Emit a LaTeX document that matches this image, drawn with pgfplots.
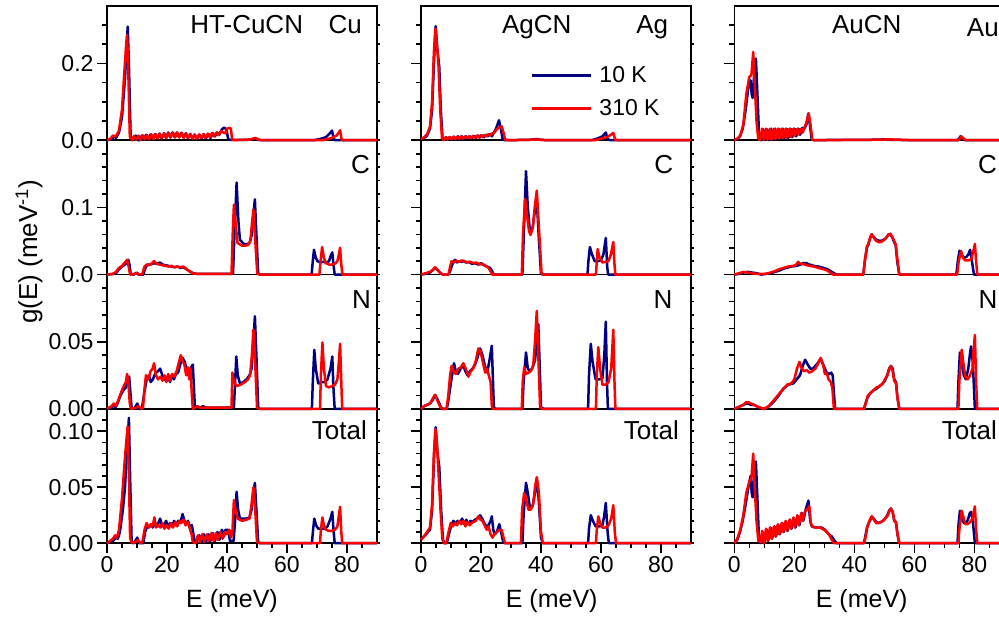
\documentclass[border=0pt]{standalone}
\usepackage{pgfplots}
\pgfplotsset{compat=1.18}
\usepackage{fontspec}
\setmainfont{Liberation Sans}
\definecolor{dblue}{RGB}{0,0,128}
\newcommand{\lblfont}{\fontsize{26}{26}\selectfont}
\pgfplotsset{
  panel/.style={
    scale only axis, width=270pt, height=134.3pt,
    xmin=0, xmax=90, ymin=0, clip=false, anchor=south west,
    axis line style={line width=1.6pt},
    every tick/.style={line width=1.6pt, black},
    tick align=outside, major tick length=10pt, minor tick length=5pt,
    xtick pos=bottom, ytick pos=left, xtick=\empty,
    /pgf/number format/assume math mode=true,
    tick label style={font=\fontsize{23}{23}\selectfont},
  },
  rticks/.style={
    scale only axis, width=270pt, height=134.3pt,
    xmin=0, xmax=90, ymin=0, anchor=south west,
    axis line style={draw=none}, xtick=\empty, ytick pos=right,
    every tick/.style={line width=1.6pt, black},
    tick align=outside, major tick length=3pt, minor tick length=3pt,
    yticklabels={},
  },
  bot/.style={xtick={0,20,40,60,80}, xticklabels={0,20,40,60,80},
    minor xtick={5,10,15,25,30,35,45,50,55,65,70,75,85}},
  rA/.style={ymax=0.35, ytick={0,0.2}, yticklabels={0.0,0.2}, minor ytick={0.05,0.1,0.15,0.25,0.3}},
  rB/.style={ymax=0.2, ytick={0,0.1}, yticklabels={0.0,0.1}, minor ytick={0.02,0.04,0.06,0.08,0.12,0.14,0.16,0.18}},
  rC/.style={ymax=0.1, ytick={0,0.05}, yticklabels={0.00,0.05}, minor ytick={0.01,0.02,0.03,0.04,0.06,0.07,0.08,0.09}},
  rD/.style={ymax=0.12, ytick={0,0.05,0.1}, yticklabels={0.00,0.05,0.10}, minor ytick={0.01,0.02,0.03,0.04,0.06,0.07,0.08,0.09,0.11}},
  nolab/.style={yticklabels={}},
  b/.style={dblue, line width=2.5pt, line join=round},
  r/.style={red, line width=2.5pt, line join=round},
}
\begin{document}
\begin{tikzpicture}
% ================= ROW 4 (Total) =================
\begin{axis}[panel, rD, bot, at={(107pt,77.8pt)}]
\addplot[b] coordinates {(0,0) (1,0.001) (2,0.002) (3,0.005) (3.6,0.004) (4.3,0.01) (5.3,0.03) (6,0.05) (6.6,0.08) (7.3,0.112) (7.7,0.06) (8.2,0.002) (9,0) (10.1,0.005) (10.6,0) (12.1,0) (12.7,0.01) (13.4,0.015) (14,0.014) (14.7,0.017) (15.3,0.014) (16,0.018) (16.7,0.015) (17.7,0.022) (18.4,0.015) (19,0.016) (19.7,0.02) (20.4,0.014) (21,0.018) (21.7,0.015) (22.4,0.02) (23,0.016) (23.7,0.02) (24.4,0.018) (25.2,0.026) (25.8,0.02) (26.4,0.017) (27,0.02) (27.6,0.015) (28.3,0.016) (29,0.005) (29.3,0.001) (30,0.002) (30.8,0.007) (31.5,0.001) (32.3,0.008) (33,0.001) (33.8,0.008) (34.5,0.002) (35.3,0.009) (36,0.002) (36.8,0.01) (37.5,0.003) (38.3,0.012) (39,0.006) (39.5,0.012) (40.4,0.012) (41,0.002) (42.2,0.002) (42.7,0.02) (43.2,0.046) (43.7,0.03) (44.3,0.022) (45.5,0.022) (46.5,0.022) (47.5,0.023) (48.2,0.03) (48.8,0.045) (49.3,0.054) (49.8,0.03) (50.4,0.001) (51,0) (68.3,0) (68.7,0.012) (69.1,0.022) (69.7,0.016) (70.4,0.013) (71.5,0.013) (72.5,0.013) (73.5,0.015) (74.5,0.022) (75.1,0.028) (75.5,0.012) (75.9,0) (90,0)};
\addplot[r] coordinates {(0,0) (1,0.002) (2,0.004) (2.7,0.007) (3.3,0.005) (4,0.012) (5,0.04) (5.8,0.07) (6.4,0.09) (6.9,0.1045) (7.3,0.06) (7.7,0.005) (8.3,0) (9.5,0.001) (10.3,0.003) (11.2,0) (11.8,0.001) (12.5,0.012) (13.2,0.018) (13.9,0.014) (14.6,0.017) (15.2,0.015) (15.8,0.023) (16.4,0.014) (17.1,0.016) (17.8,0.014) (18.5,0.018) (19.2,0.013) (19.9,0.016) (20.6,0.013) (21.3,0.018) (22,0.014) (22.7,0.019) (23.4,0.015) (24.1,0.02) (24.8,0.018) (25.5,0.021) (26.2,0.016) (26.9,0.019) (27.6,0.013) (28.2,0.008) (28.6,0.001) (29.5,0) (30.3,0.007) (31,0.001) (31.8,0.008) (32.5,0.001) (33.3,0.008) (34,0.002) (34.8,0.009) (35.5,0.002) (36.3,0.009) (37,0.003) (37.8,0.01) (38.5,0.004) (39.3,0.01) (40,0.008) (40.8,0.012) (41.3,0.005) (41.8,0.01) (42.3,0.0385) (42.8,0.03) (43.5,0.022) (45,0.02) (46.5,0.021) (47.5,0.022) (48.2,0.035) (48.8,0.05) (49.3,0.035) (50,0.001) (51,0) (71,0) (71.3,0.012) (71.8,0.023) (72.3,0.016) (73,0.012) (74,0.011) (75,0.011) (76,0.012) (76.8,0.015) (77.3,0.025) (77.7,0.0326) (78.1,0.01) (78.4,0) (90,0)};
\end{axis}
\begin{axis}[rD, rticks, at={(107pt,77.8pt)}]\end{axis}

\begin{axis}[panel, rD, nolab, bot, at={(421pt,77.8pt)}]
\addplot[b] coordinates {(0,0.004) (1,0.006) (2,0.009) (3,0.012) (3.7,0.03) (4.3,0.075) (4.9,0.1036) (5.5,0.08) (6.1,0.068) (6.7,0.03) (7.3,0.004) (7.7,0) (8.6,0) (9.3,0.008) (10,0.015) (10.8,0.02) (11.5,0.017) (12.2,0.02) (13,0.018) (13.7,0.022) (14.4,0.017) (15.1,0.021) (15.8,0.017) (16.5,0.02) (17.2,0.019) (18,0.021) (18.8,0.022) (19.7,0.025) (20.4,0.022) (21.1,0.018) (21.8,0.015) (22.5,0.016) (23.2,0.02) (23.6,0.024) (24.1,0.012) (24.6,0.008) (25.3,0.01) (26.1,0.017) (26.7,0.01) (27.4,0.001) (28,0) (33.8,0) (34.2,0.025) (35,0.054) (35.6,0.045) (36.3,0.032) (37.2,0.033) (38,0.045) (38.6,0.0577) (39.2,0.04) (40,0.005) (40.6,0) (55.7,0) (56,0.013) (56.6,0.025) (57.3,0.02) (58.2,0.015) (59.5,0.015) (60.5,0.016) (61.1,0.025) (61.6,0.036) (62.2,0.01) (62.6,0) (90,0)};
\addplot[r] coordinates {(0,0.003) (1,0.006) (2,0.01) (3,0.014) (3.7,0.035) (4.3,0.08) (4.8,0.102) (5.3,0.09) (5.9,0.06) (6.5,0.03) (7.1,0.004) (7.6,0) (8.4,0) (9.2,0.01) (9.9,0.018) (10.6,0.015) (11.3,0.018) (12,0.016) (12.7,0.02) (13.4,0.017) (14.1,0.02) (14.8,0.015) (15.5,0.019) (16.2,0.016) (16.9,0.018) (17.6,0.019) (18.3,0.02) (19.1,0.024) (19.8,0.021) (20.5,0.02) (21.2,0.016) (21.9,0.012) (22.5,0.015) (23.2,0.008) (23.8,0.005) (24.5,0.008) (25.3,0.01) (26.2,0.012) (26.9,0.012) (27.5,0.005) (28,0) (33.3,0) (33.7,0.03) (34.4,0.045) (35,0.04) (35.8,0.03) (36.6,0.03) (37.4,0.035) (38,0.05) (38.6,0.059) (39.3,0.045) (40,0.01) (40.6,0) (58.3,0) (58.6,0.012) (59.1,0.024) (59.7,0.018) (60.5,0.014) (61.5,0.014) (62.5,0.016) (63.4,0.022) (64.1,0.034) (64.6,0.01) (65,0) (90,0)};
\end{axis}
\begin{axis}[rD, rticks, at={(421pt,77.8pt)}]\end{axis}

\begin{axis}[panel, rD, nolab, bot, at={(734.3pt,77.8pt)}]
\addplot[b] coordinates {(0,0) (1,0.003) (1.9,0.01) (2.8,0.02) (3.8,0.035) (4.7,0.05) (5.4,0.06) (5.8,0.045) (6.1,0.041) (6.6,0.06) (7.2,0.073) (7.7,0.04) (8.2,0.005) (8.6,0) (9.5,0.01) (10,0) (10.8,0.012) (11.3,0.002) (12.1,0.014) (12.6,0.004) (13.4,0.015) (13.9,0.006) (14.7,0.016) (15.2,0.008) (16,0.018) (16.5,0.01) (17.3,0.019) (17.8,0.011) (18.6,0.021) (19.1,0.013) (19.9,0.022) (20.4,0.014) (21.2,0.024) (21.7,0.016) (22.5,0.027) (23,0.02) (23.8,0.03) (24.7,0.038) (25.3,0.02) (25.8,0.015) (27,0.014) (28,0.014) (29.1,0.014) (30.2,0.012) (31.5,0.008) (32.5,0.006) (33.5,0.002) (34.1,0) (43.2,0) (43.6,0.005) (44.3,0.015) (45.2,0.02) (45.8,0.0237) (46.5,0.022) (47.3,0.019) (48,0.018) (49,0.019) (50,0.021) (51,0.025) (51.6,0.029) (52.2,0.031) (52.8,0.028) (53.3,0.02) (53.9,0.019) (54.4,0.008) (55,0) (74.4,0) (74.7,0.015) (75.2,0.029) (75.8,0.024) (76.5,0.018) (77.3,0.018) (78,0.022) (78.5,0.027) (78.9,0.028) (79.5,0.02) (80.2,0) (90,0)};
\addplot[r] coordinates {(0,0) (1,0.004) (2,0.012) (3,0.025) (4,0.045) (5,0.055) (5.7,0.058) (6.3,0.08) (6.8,0.05) (7.4,0.02) (8,0.002) (8.8,0.001) (9.3,0.011) (9.8,0) (10.6,0.013) (11.1,0.002) (11.9,0.014) (12.4,0.004) (13.2,0.015) (13.7,0.006) (14.5,0.017) (15,0.008) (15.8,0.018) (16.3,0.01) (17.1,0.02) (17.6,0.011) (18.4,0.021) (18.9,0.013) (19.7,0.023) (20.2,0.014) (21,0.025) (21.5,0.016) (22.3,0.027) (22.8,0.02) (23.5,0.028) (24.2,0.03) (25,0.033) (25.5,0.018) (26,0.015) (27,0.014) (28.5,0.014) (30,0.012) (31.5,0.008) (32.5,0.003) (33.2,0) (43.3,0) (43.8,0.006) (44.4,0.015) (45.2,0.021) (45.8,0.024) (46.5,0.021) (47.3,0.018) (48,0.018) (49,0.019) (50,0.021) (51,0.024) (51.6,0.028) (52.2,0.031) (52.8,0.028) (53.3,0.021) (53.9,0.018) (54.4,0.008) (55,0) (74.7,0) (75,0.012) (75.8,0.029) (76.3,0.024) (77,0.017) (77.8,0.017) (78.6,0.019) (79.4,0.022) (79.8,0.028) (80.2,0.033) (80.6,0.012) (81,0) (90,0)};
\end{axis}
\begin{axis}[rD, rticks, at={(734.3pt,77.8pt)}]\end{axis}

% ================= ROW 3 (N) =================
\begin{axis}[panel, rC, at={(107pt,212.1pt)}]
\addplot[b] coordinates {(0,0) (1.5,0.001) (2.1,0.003) (2.8,0.001) (3.5,0.004) (4.5,0.01) (5.5,0.014) (6.3,0.016) (6.8,0.02) (7.4,0.024) (7.8,0.012) (8.2,0.001) (9,0) (10.1,0.004) (10.7,0) (11.6,0) (12.3,0.01) (13.2,0.022) (14,0.025) (14.6,0.02) (15.3,0.022) (16.2,0.027) (17,0.028) (17.7,0.03) (18.3,0.026) (19,0.022) (19.7,0.021) (20.4,0.024) (21,0.02) (21.6,0.025) (22.3,0.022) (23,0.026) (23.7,0.027) (24.4,0.033) (25.2,0.038) (25.9,0.035) (26.5,0.03) (27.1,0.025) (27.8,0.03) (28.6,0.033) (29,0.015) (29.3,0.001) (30,0.002) (31,0.001) (32,0.002) (33,0.001) (35,0.001) (38,0.001) (42.3,0.001) (42.6,0.015) (43.1,0.039) (43.6,0.025) (44.3,0.019) (45.5,0.02) (46.5,0.022) (47.5,0.025) (48.2,0.03) (48.8,0.05) (49.3,0.069) (49.8,0.04) (50.4,0.001) (51,0) (68.3,0) (68.6,0.02) (69.1,0.044) (69.6,0.03) (70.4,0.019) (71.5,0.02) (72.5,0.02) (73.5,0.022) (74.5,0.03) (75.1,0.039) (75.5,0.015) (75.9,0) (90,0)};
\addplot[r] coordinates {(0,0) (1.5,0.002) (2.3,0.004) (3,0.002) (4,0.008) (5,0.014) (5.8,0.018) (6.3,0.02) (6.7,0.026) (7.1,0.02) (7.6,0.004) (8,0) (9.8,0.001) (10.5,0.002) (11.5,0) (12,0.001) (12.5,0.015) (13,0.025) (13.8,0.022) (14.5,0.028) (15.2,0.03) (15.7,0.034) (16.3,0.025) (17,0.022) (17.8,0.024) (18.5,0.021) (19.2,0.025) (19.8,0.02) (20.4,0.026) (21,0.021) (21.7,0.026) (22.4,0.024) (23.2,0.028) (24,0.035) (24.6,0.04) (25.2,0.036) (25.8,0.033) (26.4,0.025) (27,0.031) (27.4,0.022) (27.8,0.03) (28.3,0.01) (28.6,0) (30,0.002) (31,0.001) (33,0.001) (36,0.001) (41.5,0.001) (41.8,0.027) (42.3,0.02) (43.3,0.017) (44.5,0.018) (46,0.02) (47,0.022) (47.7,0.025) (48.3,0.04) (48.8,0.059) (49.3,0.04) (50,0.001) (51,0) (71,0) (71.3,0.025) (71.8,0.0495) (72.3,0.03) (73,0.017) (74,0.016) (75,0.017) (76,0.018) (76.8,0.022) (77.3,0.035) (77.7,0.0485) (78.1,0.02) (78.4,0) (90,0)};
\end{axis}
\begin{axis}[rC, rticks, at={(107pt,212.1pt)}]\end{axis}

\begin{axis}[panel, rC, nolab, at={(421pt,212.1pt)}]
\addplot[b] coordinates {(0,0) (1,0.002) (2,0.003) (3,0.004) (4,0.007) (4.7,0.0104) (5.5,0.007) (6.5,0.002) (7,0) (8.6,0) (9.1,0.006) (10,0.02) (11,0.034) (11.6,0.028) (12.3,0.026) (13.2,0.03) (14.1,0.032) (14.8,0.028) (15.5,0.025) (16.3,0.028) (17.2,0.03) (18,0.033) (18.8,0.038) (19.7,0.045) (20.5,0.04) (21.3,0.032) (22.1,0.027) (22.8,0.036) (23.6,0.047) (24,0.02) (24.3,0.001) (25,0) (33.8,0) (34.2,0.02) (35,0.042) (35.6,0.03) (36.3,0.028) (37,0.03) (38,0.036) (38.6,0.05) (39.1,0.063) (39.6,0.03) (40,0.001) (41,0) (55.7,0) (56,0.025) (56.6,0.0485) (57.2,0.035) (58.2,0.022) (59.5,0.022) (60.5,0.023) (61.1,0.04) (61.6,0.065) (62,0.02) (62.3,0) (90,0)};
\addplot[r] coordinates {(0,0) (1,0.002) (2,0.003) (3,0.004) (4,0.008) (4.7,0.0105) (5.5,0.006) (6.5,0.001) (7.5,0) (8.5,0) (9.1,0.01) (9.7,0.025) (10.2,0.032) (10.9,0.028) (11.6,0.026) (12.5,0.03) (13.3,0.031) (14.1,0.034) (14.9,0.03) (15.8,0.024) (16.6,0.028) (17.4,0.03) (18.3,0.036) (19.1,0.045) (19.8,0.043) (20.6,0.035) (21.4,0.027) (22,0.03) (22.6,0.025) (23.2,0.02) (23.6,0.002) (24,0) (33.6,0) (33.9,0.02) (34.4,0.031) (35,0.026) (35.8,0.027) (36.6,0.028) (37.4,0.032) (38,0.05) (38.6,0.073) (39.1,0.04) (39.7,0.001) (40.5,0) (58.3,0) (58.6,0.025) (59.1,0.046) (59.7,0.03) (60.5,0.018) (61.5,0.018) (62.5,0.02) (63.4,0.03) (64.1,0.059) (64.5,0.02) (64.8,0) (90,0)};
\end{axis}
\begin{axis}[rC, rticks, at={(421pt,212.1pt)}]\end{axis}

\begin{axis}[panel, rC, nolab, at={(734.3pt,212.1pt)}]
\addplot[b] coordinates {(0,0) (1,0.001) (2,0.002) (3,0.003) (4,0.004) (4.7,0.004) (5.5,0.003) (6.5,0.003) (7.4,0.002) (8.5,0.001) (10.2,0) (11.5,0.002) (13,0.005) (14.5,0.009) (16.3,0.015) (18,0.018) (19.7,0.019) (20.8,0.022) (21.9,0.025) (22.8,0.032) (23.6,0.0366) (24.5,0.033) (25.3,0.03) (26.2,0.03) (27,0.032) (27.8,0.034) (28.6,0.037) (29.4,0.034) (30.2,0.03) (30.8,0.027) (31.6,0.026) (32.3,0.027) (32.8,0.025) (33.2,0.012) (33.6,0) (43.2,0) (43.6,0.003) (44.5,0.009) (45.5,0.012) (46.5,0.014) (47.4,0.015) (48.5,0.017) (49.5,0.019) (50.2,0.021) (51,0.025) (51.6,0.03) (52.2,0.032) (52.8,0.03) (53.3,0.022) (53.9,0.02) (54.4,0.008) (55,0) (74.4,0) (74.7,0.02) (75.2,0.042) (75.8,0.035) (76.5,0.025) (77.2,0.022) (78,0.03) (78.5,0.04) (78.9,0.0465) (79.5,0.035) (80.2,0) (90,0)};
\addplot[r] coordinates {(0,0) (1,0.001) (2,0.002) (3,0.003) (4,0.005) (4.7,0.005) (5.5,0.004) (6.5,0.003) (7.5,0.002) (8.5,0.001) (9.8,0) (11.5,0.002) (13,0.006) (14.5,0.01) (16,0.014) (17.6,0.018) (19,0.019) (20,0.022) (20.9,0.03) (21.7,0.035) (22.5,0.03) (23.3,0.028) (24.1,0.029) (25,0.027) (26,0.028) (27,0.03) (28,0.034) (28.8,0.038) (29.5,0.034) (30.2,0.026) (30.8,0.027) (31.4,0.022) (32.2,0.02) (32.7,0.015) (33.2,0) (43.3,0) (43.8,0.004) (44.5,0.01) (45.5,0.012) (46.5,0.014) (47.4,0.016) (48.5,0.017) (49.5,0.019) (50.2,0.022) (51,0.025) (51.6,0.029) (52.2,0.032) (52.8,0.028) (53.3,0.021) (53.9,0.019) (54.4,0.008) (55,0) (74.7,0) (75,0.02) (75.8,0.044) (76.3,0.035) (77,0.024) (77.8,0.022) (78.6,0.025) (79.4,0.03) (79.8,0.045) (80.2,0.055) (80.6,0.02) (81,0) (90,0)};
\end{axis}
\begin{axis}[rC, rticks, at={(734.3pt,212.1pt)}]\end{axis}

% ================= ROW 2 (C) =================
\begin{axis}[panel, rB, at={(107pt,346.4pt)}]
\addplot[b] coordinates {(0,0) (2,0.001) (3,0.002) (4,0.008) (5,0.012) (6,0.015) (6.6,0.017) (7.1,0.022) (7.5,0.015) (7.9,0.001) (9,0) (9.9,0.003) (10.5,0) (12.1,0) (12.8,0.01) (13.5,0.015) (14.5,0.015) (15.5,0.017) (16.5,0.016) (17.7,0.018) (18.5,0.015) (19.5,0.014) (20.5,0.013) (21.5,0.012) (22.5,0.011) (23.5,0.012) (24.5,0.01) (25.4,0.011) (26.5,0.008) (27.5,0.005) (28.8,0.002) (30,0.001) (35,0.001) (40,0.001) (42,0.001) (42.4,0.05) (43.2,0.137) (43.8,0.08) (44.3,0.052) (45.5,0.046) (46.5,0.045) (47.5,0.047) (48.3,0.06) (48.8,0.09) (49.3,0.112) (49.8,0.06) (50.4,0.002) (51,0) (68.2,0) (68.6,0.02) (69,0.037) (69.6,0.025) (70.2,0.02) (71,0.018) (72,0.019) (73,0.018) (74,0.02) (74.6,0.028) (75.1,0.033) (75.5,0.015) (75.9,0) (90,0)};
\addplot[r] coordinates {(0,0) (2,0.001) (3,0.004) (4,0.01) (5,0.013) (6,0.018) (6.7,0.022) (7.3,0.01) (7.7,0) (9,0.001) (10,0.002) (11,0) (11.8,0.001) (12.5,0.012) (13.2,0.015) (14,0.014) (15,0.017) (15.7,0.02) (16.5,0.016) (17.5,0.015) (18.5,0.014) (19.5,0.013) (20.5,0.012) (21.5,0.013) (22.5,0.011) (23.5,0.012) (24.5,0.011) (25.5,0.012) (26.5,0.008) (27.5,0.005) (28.5,0.002) (30,0.001) (41.5,0.001) (41.9,0.06) (42.3,0.104) (42.8,0.08) (43.5,0.047) (45,0.043) (46,0.043) (47,0.044) (47.8,0.05) (48.3,0.075) (48.8,0.097) (49.3,0.06) (50.1,0.001) (51,0) (70.8,0) (71.3,0.025) (71.7,0.041) (72.3,0.025) (73,0.017) (74,0.015) (75,0.015) (76,0.016) (76.8,0.02) (77.3,0.03) (77.7,0.04) (78.1,0.015) (78.5,0) (90,0)};
\end{axis}
\begin{axis}[rB, rticks, at={(107pt,346.4pt)}]\end{axis}

\begin{axis}[panel, rB, nolab, at={(421pt,346.4pt)}]
\addplot[b] coordinates {(0,0) (1.5,0.001) (3,0.003) (4,0.007) (4.7,0.01) (5.5,0.007) (6.5,0.002) (7.4,0) (9.1,0) (9.7,0.005) (10.5,0.016) (11.3,0.022) (12,0.018) (12.8,0.02) (13.5,0.019) (14.3,0.02) (15,0.018) (16,0.019) (17,0.016) (18,0.017) (19,0.015) (20,0.017) (21,0.014) (22,0.012) (23,0.01) (23.6,0.006) (24.1,0.001) (25,0) (33.8,0) (34.2,0.05) (35,0.154) (35.6,0.1) (36.3,0.065) (37.2,0.07) (37.8,0.09) (38.6,0.111) (39.2,0.06) (40,0.001) (41,0) (55.5,0) (55.8,0.02) (56.3,0.041) (57,0.03) (57.9,0.02) (59,0.02) (60,0.021) (60.8,0.03) (61.6,0.0545) (62.1,0.01) (62.4,0) (90,0)};
\addplot[r] coordinates {(0,0) (1.5,0.002) (3,0.004) (4,0.007) (4.7,0.011) (5.5,0.007) (6.5,0.002) (7.5,0) (9.2,0) (9.7,0.012) (10.2,0.02) (11,0.018) (11.8,0.021) (12.6,0.019) (13.5,0.021) (14.5,0.02) (15.5,0.018) (16.5,0.019) (17.5,0.017) (18.5,0.018) (19.5,0.015) (20.5,0.016) (21.5,0.013) (22.5,0.01) (23.3,0.004) (23.8,0) (33.6,0) (34,0.06) (34.7,0.113) (35.3,0.09) (36,0.065) (36.5,0.059) (37.3,0.07) (37.9,0.1) (38.6,0.125) (39.3,0.07) (40.2,0.001) (41,0) (58.3,0) (58.6,0.02) (58.9,0.038) (59.5,0.025) (60.5,0.018) (61.5,0.019) (62.5,0.02) (63.3,0.03) (64.1,0.0485) (64.5,0.015) (64.8,0) (90,0)};
\end{axis}
\begin{axis}[rB, rticks, at={(421pt,346.4pt)}]\end{axis}

\begin{axis}[panel, rB, nolab, at={(734.3pt,346.4pt)}]
\addplot[b] coordinates {(0,0) (1.5,0.001) (3,0.003) (4.5,0.004) (6,0.003) (7.5,0.002) (9,0) (10.5,0.001) (12,0.002) (13.5,0.004) (15,0.006) (16.5,0.009) (17.4,0.01) (19,0.012) (20.8,0.013) (22,0.015) (23,0.0173) (24,0.017) (25,0.015) (26.5,0.013) (28,0.012) (29.7,0.01) (31,0.008) (32.5,0.004) (34.1,0) (43,0) (43.5,0.02) (44.2,0.04) (44.7,0.045) (45.3,0.055) (45.8,0.06) (46.5,0.056) (47.3,0.052) (48.5,0.05) (49.5,0.051) (50.5,0.054) (51.4,0.06) (52,0.06) (52.7,0.055) (53.3,0.048) (53.8,0.044) (54.3,0.02) (55,0) (74,0) (74.5,0.02) (75.1,0.0357) (75.7,0.03) (76.5,0.025) (77.3,0.026) (78,0.03) (78.6,0.037) (79.2,0.02) (79.9,0) (90,0)};
\addplot[r] coordinates {(0,0) (1.5,0.002) (3,0.004) (4.5,0.003) (6,0.002) (7.5,0.001) (9,0.001) (10.5,0.001) (12,0.003) (13.5,0.005) (15,0.008) (16.5,0.01) (18,0.012) (19.5,0.013) (20.5,0.014) (21.3,0.019) (22,0.016) (23.5,0.015) (25,0.013) (26.5,0.012) (28,0.01) (29.7,0.008) (31,0.006) (32,0.003) (33,0) (43,0) (43.5,0.02) (44.2,0.042) (44.7,0.046) (45.3,0.055) (45.8,0.06) (46.5,0.055) (47.3,0.05) (48.5,0.048) (49.5,0.05) (50.5,0.054) (51.4,0.059) (52,0.061) (52.7,0.056) (53.3,0.05) (53.8,0.045) (54.3,0.025) (55,0) (74.3,0) (74.8,0.02) (75.6,0.035) (76.2,0.025) (77,0.021) (78,0.021) (79,0.023) (79.7,0.035) (80.2,0.0456) (80.6,0.02) (81,0) (90,0)};
\end{axis}
\begin{axis}[rB, rticks, at={(734.3pt,346.4pt)}]\end{axis}

% ================= ROW 1 (metal) =================
\begin{axis}[panel, rA, at={(107pt,480.8pt)}]
\addplot[b] coordinates {(0,0) (1.5,0.002) (2.3,0.01) (3,0.006) (4,0.02) (5,0.06) (6,0.16) (6.6,0.25) (6.9,0.296) (7.3,0.2) (7.9,0.005) (8.5,0) (9.6,0.012) (10.2,0) (11,0) (11.6,0.012) (12.3,0.002) (13,0.014) (13.7,0.002) (14.5,0.015) (15.2,0.003) (16,0.016) (16.8,0.004) (17.5,0.017) (18.2,0.005) (19,0.018) (19.7,0.006) (20.4,0.02) (21.1,0.007) (21.8,0.02) (22.6,0.008) (23.3,0.02) (24,0.008) (24.8,0.019) (25.5,0.007) (26.3,0.018) (27,0.005) (27.8,0.016) (28.5,0.004) (29.3,0.014) (30,0.004) (30.8,0.014) (31.5,0.004) (32.3,0.015) (33,0.005) (33.8,0.016) (34.5,0.006) (35.3,0.018) (36,0.01) (36.8,0.02) (37.5,0.015) (38.3,0.028) (39,0.033) (39.8,0.028) (40.4,0.003) (41,0.001) (47,0.001) (48.5,0.003) (49.3,0.005) (50,0.001) (52,0) (69,0) (71,0.003) (73,0.008) (74.5,0.02) (75,0.025) (75.6,0.003) (76,0) (90,0)};
\addplot[r] coordinates {(0,0) (1,0.003) (2,0.012) (3,0.01) (4,0.025) (5,0.08) (5.8,0.18) (6.4,0.25) (6.7,0.274) (7.1,0.18) (7.6,0.01) (8.3,0) (9.0,0.011) (9.7,0.001) (10.5,0.012) (11.2,0.001) (11.9,0.013) (12.6,0.002) (13.3,0.014) (14,0.002) (14.8,0.015) (15.5,0.003) (16.2,0.016) (16.9,0.004) (17.6,0.017) (18.3,0.005) (19.1,0.018) (19.8,0.006) (20.5,0.019) (21.2,0.007) (22,0.02) (22.7,0.007) (23.4,0.02) (24.1,0.007) (24.9,0.019) (25.6,0.006) (26.3,0.018) (27,0.005) (27.8,0.016) (28.5,0.004) (29.2,0.015) (29.9,0.004) (30.7,0.015) (31.4,0.005) (32.1,0.016) (32.8,0.006) (33.6,0.017) (34.3,0.008) (35,0.019) (35.7,0.01) (36.5,0.02) (37.2,0.013) (38,0.024) (38.8,0.02) (39.5,0.018) (40,0.03) (40.8,0.032) (41.3,0.03) (41.7,0.002) (42.5,0) (48,0.002) (49.5,0.006) (50.5,0.001) (52,0) (72,0) (75,0.006) (76.5,0.012) (77.3,0.02) (77.7,0.026) (78.2,0.002) (78.8,0) (90,0)};
\end{axis}
\begin{axis}[rA, rticks, at={(107pt,480.8pt)}]\end{axis}

\begin{axis}[panel, rA, nolab, at={(421pt,480.8pt)},
  legend style={draw=none, fill=none, at={(0.404,0.547)}, anchor=north west,
    inner sep=0pt, row sep=15pt, column sep=7.7pt,
    font=\fontsize{23}{23}\selectfont, nodes={inner sep=0pt}},
  legend cell align=left,
  legend image code/.code={\draw[#1] (0pt,0pt) -- (59pt,0pt);}]
\addplot[b] coordinates {(0,0.004) (1,0.006) (1.9,0.01) (3,0.03) (3.7,0.08) (4.3,0.2) (4.9,0.297) (5.4,0.24) (6.1,0.19) (6.6,0.08) (7.2,0.003) (7.8,0) (8.5,0.007) (9,0.002) (9.7,0.008) (10.3,0.003) (11,0.009) (11.6,0.003) (12.3,0.01) (13,0.004) (13.6,0.01) (14.3,0.004) (15,0.01) (15.6,0.005) (16.3,0.01) (17,0.005) (17.6,0.011) (18.3,0.006) (19,0.012) (19.6,0.007) (20.3,0.013) (21,0.008) (21.6,0.014) (22.3,0.01) (23,0.016) (23.6,0.01) (24.3,0.02) (25,0.03) (26,0.052) (26.6,0.03) (27.2,0.003) (28,0) (36,0.001) (38.5,0.003) (40,0.001) (42,0) (57,0) (59,0.005) (60.5,0.01) (61.6,0.02) (62.2,0.003) (63,0) (90,0)};
\addlegendentry{10 K}
\addplot[r] coordinates {(0,0.003) (1,0.007) (2,0.015) (3,0.035) (3.7,0.1) (4.3,0.23) (4.8,0.291) (5.3,0.25) (5.8,0.2) (6.4,0.08) (7,0.005) (7.6,0.001) (8.2,0.008) (8.8,0.002) (9.5,0.008) (10.1,0.003) (10.8,0.009) (11.4,0.003) (12.1,0.009) (12.7,0.004) (13.4,0.01) (14,0.004) (14.7,0.01) (15.3,0.005) (16,0.01) (16.6,0.005) (17.3,0.011) (17.9,0.006) (18.6,0.012) (19.2,0.007) (19.9,0.013) (20.5,0.008) (21.2,0.014) (21.8,0.01) (22.5,0.016) (23.1,0.012) (23.8,0.018) (24.5,0.02) (25.2,0.028) (26,0.033) (26.9,0.036) (27.5,0.02) (28,0.002) (29,0) (36,0.001) (38,0.002) (40,0.001) (42,0) (58,0) (60,0.004) (62,0.008) (63.3,0.014) (64.1,0.019) (64.7,0.002) (65.5,0) (90,0)};
\addlegendentry{310 K}
\end{axis}
\begin{axis}[rA, rticks, at={(421pt,480.8pt)}]\end{axis}

\begin{axis}[panel, rA, nolab, at={(734.3pt,480.8pt)}]
\addplot[b] coordinates {(0,0) (1,0.003) (1.9,0.01) (2.8,0.03) (3.8,0.08) (4.7,0.139) (5.4,0.156) (5.8,0.12) (6.1,0.11) (6.6,0.17) (7.2,0.213) (7.7,0.12) (8.3,0.003) (9,0) (9.7,0.028) (10.2,0) (11,0.028) (11.5,0) (12.3,0.03) (12.8,0.002) (13.6,0.03) (14.1,0.003) (14.9,0.03) (15.4,0.004) (16.2,0.03) (16.7,0.005) (17.5,0.03) (18,0.006) (18.8,0.03) (19.3,0.008) (20.1,0.03) (20.6,0.01) (21.4,0.03) (21.9,0.014) (22.7,0.032) (23.3,0.03) (24,0.04) (24.7,0.07) (25.2,0.04) (25.8,0.002) (26.5,0) (35,0.001) (45,0.001) (50,0.002) (52,0.001) (60,0) (74.5,0) (75.4,0.01) (76.3,0.003) (77,0) (90,0)};
\addplot[r] coordinates {(0,0) (1,0.004) (2,0.012) (3,0.04) (4,0.12) (5,0.165) (5.7,0.17) (6.3,0.23) (6.8,0.15) (7.4,0.05) (8,0.002) (8.6,0.001) (9.3,0.03) (9.8,0.001) (10.6,0.03) (11.1,0.001) (11.9,0.03) (12.4,0.002) (13.2,0.03) (13.7,0.003) (14.5,0.03) (15,0.004) (15.8,0.03) (16.3,0.005) (17.1,0.03) (17.6,0.006) (18.4,0.03) (18.9,0.008) (19.7,0.03) (20.2,0.012) (21,0.03) (21.5,0.015) (22.3,0.03) (22.8,0.02) (23.5,0.035) (24.2,0.05) (24.8,0.07) (25.4,0.04) (26,0.002) (26.5,0) (45,0.001) (52,0.002) (60,0) (74.8,0) (75.7,0.01) (76.6,0.003) (77.3,0) (90,0)};
\end{axis}
\begin{axis}[rA, rticks, at={(734.3pt,480.8pt)}]\end{axis}

% ================= TEXT =================
\begin{scope}[every node/.style={inner sep=0pt, font=\lblfont}]
\node[anchor=base] at (246.7pt,587pt) {HT-CuCN};
\node[anchor=base east] at (362pt,587pt) {Cu};
\node[anchor=base east] at (370pt,447pt) {C};
\node[anchor=base east] at (371pt,312pt) {N};
\node[anchor=base east] at (367pt,181pt) {Total};
\node[anchor=base] at (536.7pt,587pt) {AgCN};
\node[anchor=base east] at (668.3pt,587pt) {Ag};
\node[anchor=base east] at (673.3pt,447pt) {C};
\node[anchor=base east] at (672.7pt,312pt) {N};
\node[anchor=base east] at (679pt,181pt) {Total};
\node[anchor=base] at (866.7pt,587pt) {AuCN};
\node[anchor=base west] at (966.7pt,584pt) {Au};
\node[anchor=base west] at (978pt,447pt) {C};
\node[anchor=base west] at (978.3pt,312pt) {N};
\node[anchor=base west] at (941.7pt,181pt) {Total};
\node[anchor=base, font=\fontsize{25}{25}\selectfont] at (232pt,13pt) {E (meV)};
\node[anchor=base, font=\fontsize{25}{25}\selectfont] at (551.7pt,13pt) {E (meV)};
\node[anchor=base, font=\fontsize{25}{25}\selectfont] at (861.7pt,13pt) {E (meV)};
\node[rotate=90, anchor=center, font=\fontsize{26}{26}\selectfont] at (29pt,369pt) {g(E) (meV\textsuperscript{-1})};
\end{scope}
\pgfresetboundingbox
\useasboundingbox (0pt,0pt) rectangle (999pt,621pt);
\end{tikzpicture}
\end{document}
